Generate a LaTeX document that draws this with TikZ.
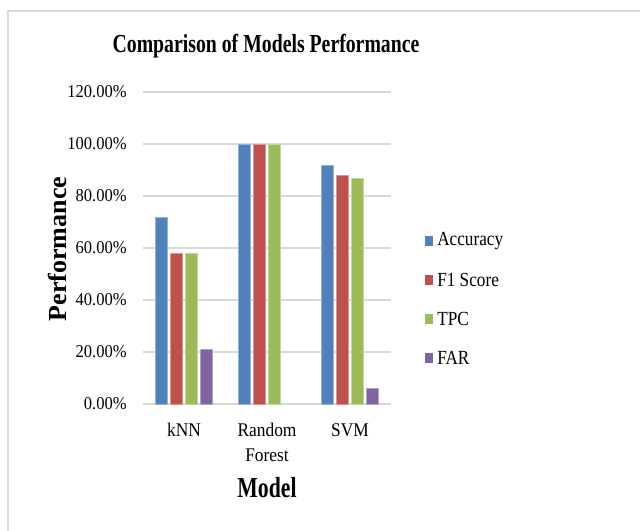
\documentclass[tikz,border=0pt]{standalone}
\usepackage{fontspec}
\setmainfont{Liberation Serif}
\definecolor{cacc}{HTML}{4F81BD}
\definecolor{cfone}{HTML}{C0504D}
\definecolor{ctpc}{HTML}{9BBB59}
\definecolor{cfar}{HTML}{8064A2}
\definecolor{gridgrey}{HTML}{D9D9D9}
\definecolor{framegrey}{HTML}{D9D9D9}
\newcommand\ticktxt[1]{\scalebox{0.92}[1]{\fontsize{13.5pt}{14pt}\selectfont #1}}
\newcommand\cattxt[1]{\scalebox{0.9}[1]{\fontsize{14.5pt}{15pt}\selectfont #1}}
\tikzset{
  gridline/.style={draw=gridgrey, line width=1.1pt},
  ticklab/.style={anchor=east, inner sep=0pt},
  catlab/.style={anchor=center, inner sep=0pt, align=center},
  leglab/.style={anchor=west, inner sep=0pt},
  barbox/.style={line width=0.4pt},
}
\begin{document}
\begin{tikzpicture}[x=0.75pt,y=-0.75pt]
\useasboundingbox (0,0) rectangle (640,531);
\begin{scope}
\clip (0,0) rectangle (640,531);
\draw[framegrey, line width=1.3pt] (8,11) rectangle (680,580);
\end{scope}
% title
\node (title) at (266,46) {\scalebox{0.76}[1]{\fontsize{19.5pt}{20pt}\selectfont\bfseries Comparison of Models Performance}};
% gridlines
\foreach \v/\t in {20/20.00\%,40/40.00\%,60/60.00\%,80/80.00\%,100/100.00\%,120/120.00\%}{
  \draw[gridline] (143,{404-2.6*\v}) -- (391,{404-2.6*\v});
  \node[ticklab] at (127,{404-2.6*\v}) {\ticktxt{\t}};
}
\draw[gridline] (143,404) -- (391,404);
\node[ticklab] (zero) at (127,404) {\ticktxt{0.00\%}};
% bars
\foreach \c/\a/\f/\p/\r in {184/72/58/58/21, 267/100/100/100/0, 350/92/88/87/6}{
  \filldraw[barbox, fill=cacc, draw=cacc!60!white] ({\c-28.5},404) rectangle ({\c-16.5},{404-2.6*\a});
  \filldraw[barbox, fill=cfone, draw=cfone!60!white] ({\c-13.5},404) rectangle ({\c-1.5},{404-2.6*\f});
  \filldraw[barbox, fill=ctpc, draw=ctpc!60!white] ({\c+1.5},404) rectangle ({\c+13.5},{404-2.6*\p});
  \ifnum\r>0
  \filldraw[barbox, fill=cfar, draw=cfar!60!white] ({\c+16.5},404) rectangle ({\c+28.5},{404-2.6*\r});
  \fi
}
% category labels
\node[catlab] (knn) at (184,430) {\cattxt{kNN}};
\node[catlab] (rf1) at (267,430) {\cattxt{Random}};
\node[catlab] (rf2) at (267,455) {\cattxt{Forest}};
\node[catlab] (svm) at (350,430) {\cattxt{SVM}};
% axis titles
\node (xtitle) at (267,488) {\scalebox{0.75}[1]{\fontsize{21.75pt}{22pt}\selectfont\bfseries Model}};
\node[rotate=90] (ytitle) at (57,249) {\fontsize{19.5pt}{20pt}\selectfont\bfseries Performance};
% legend
\foreach \col/\lab/\yy in {cacc/Accuracy/241, cfone/F1 Score/280, ctpc/TPC/319, cfar/FAR/358}{
  \fill[\col] (425,{\yy-5}) rectangle (433,{\yy+5});
  \node[leglab] at (437,\yy) {\scalebox{0.86}[1]{\fontsize{15pt}{16pt}\selectfont \lab}};
}
\end{tikzpicture}
\end{document}
